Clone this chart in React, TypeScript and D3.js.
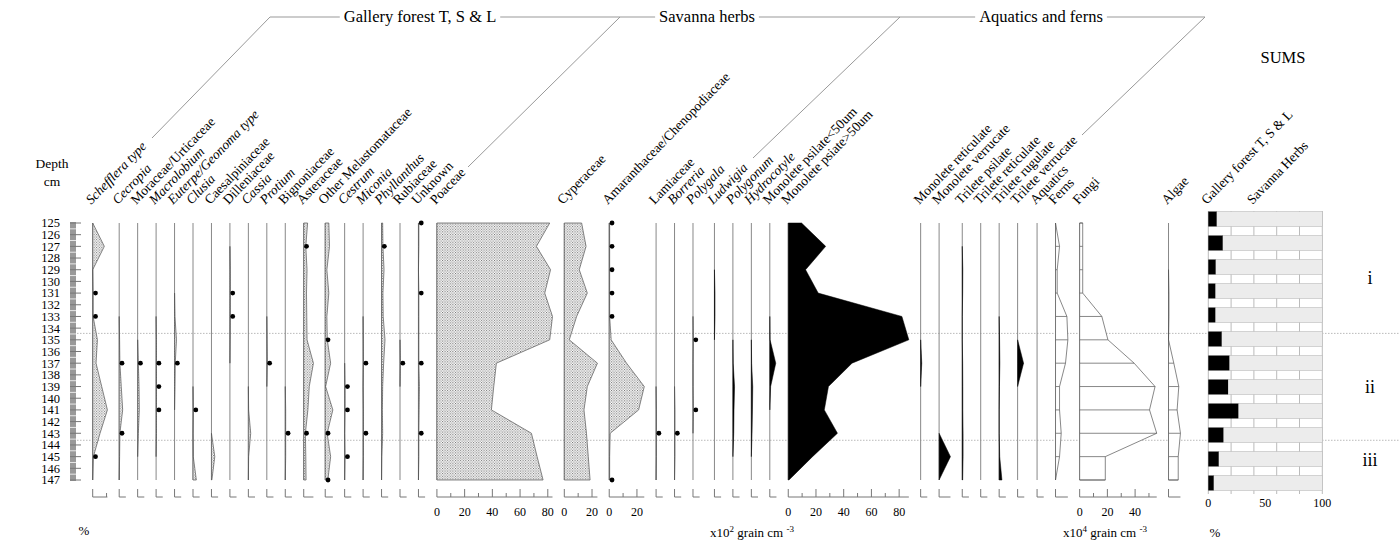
import { useEffect, useRef } from 'react'
import * as d3 from 'd3'

// sample depths (cm) and depth axis labels
const depths = [125, 127, 129, 131, 133, 135, 137, 139, 141, 143, 145, 147]
const depthLabels = d3.range(125, 148)
const zoneBoundaries = [134.45, 143.6]
const zoneNames = ['i', 'ii', 'iii']

// Gallery forest T, S & L (%)
const schefflera = [0, 8.4, 0, 0.3, 0.3, 3.4, 2.4, 6.5, 10.6, 5.3, 0.5, 0]
const cecropia = [0, 0, 0, 0, 0, 0.3, 0.5, 1.5, 2.5, 0.5, 0.3, 0]
const moraceae = [0, 0, 0, 0, 0, 0, 0.5, 1, 1.2, 0.5, 0, 0]
const macrolobium = [0, 0, 0, 0, 0, 0.3, 0.3, 0.3, 0.3, 0.3, 0, 0]
const euterpe = [0, 0, 0, 0, 0.3, 1.4, 0.5, 0.3, 0, 0, 0, 0]
const clusia = [0, 0, 0, 0, 0, 0, 0, 0, 0.3, 0, 0.2, 2.4]
const caesalpiniaceae = [0, 0, 0, 0, 0, 0, 0, 0, 0, 0, 2.4, 0.3]
const dilleniaceae = [0, 0, 0.3, 0.3, 0.3, 0.2, 0, 0, 0, 0, 0, 0]
const cassia = [0, 0, 0, 0, 0, 0, 0, 0, 0.2, 1.7, 0.2, 0]
const protium = [0, 0, 0, 0, 0, 0.2, 0.4, 0, 0, 0, 0, 0]
const bignoniaceae = [0, 0, 0, 0, 0, 0, 0, 0, 0.3, 0.3, 0.3, 0]
const asteraceae = [2.8, 1.5, 2.4, 2, 2.2, 2.4, 7, 4, 3, 1.2, 1.5, 1.7]
const otherMelastomataceae = [2.6, 3.1, 1.2, 2.6, 1.2, 1.5, 3.9, 0.3, 5.5, 1.4, 3.9, 1.9]
const cestrum = [0, 0, 0, 0, 0, 0, 0, 0.3, 0.3, 0, 0.3, 0]
const miconia = [0, 0, 0, 0, 0, 0.2, 0.3, 0, 0.3, 0.3, 0.3, 0]
const phyllanthus = [0.8, 1, 1.8, 1, 1.2, 2.5, 1.5, 0.8, 0.6, 0.8, 0.2, 0]
const rubiaceae = [0, 0, 0, 0, 0, 0, 0.3, 0, 0, 0, 0, 0]
const unknown = [0.3, 0.3, 0, 0.3, 0.3, 0.3, 0.3, 0.7, 0.5, 0.3, 0.3, 0]

// Savanna herbs (%)
const poaceae = [81.4, 71.8, 82, 77.8, 83.4, 81.4, 42.9, 41, 39.3, 68.2, 72.3, 76.6]
const cyperaceae = [12.5, 15.7, 10.8, 16.6, 8.9, 3.6, 23.9, 16.6, 14.2, 16, 17.3, 18.6]
const amaranthaceae = [0.3, 0.3, 0.3, 0.3, 0.3, 1.4, 12.5, 25.3, 21.2, 0.7, 0.3, 0.3]
const lamiaceae = [0, 0, 0, 0, 0, 0, 0, 0, 0.3, 0.3, 0.3, 0]
const borreria = [0, 0, 0, 0, 0, 0, 0, 0, 0.3, 0.3, 0.3, 0]
const polygala = [0, 0, 0, 0, 0, 0.3, 0, 0, 0.3, 0, 0, 0]

// Aquatics and ferns (x10^2 grain cm-3)
const ludwigia = [0, 0, 0, 0.4, 0.4, 0, 0, 0, 0, 0, 0, 0]
const polygonum = [0, 0, 0, 0, 0, 0, 0.2, 1.2, 0.8, 0.6, 0, 0]
const hydrocotyle = [0, 0, 0, 0, 0, 0, 0.2, 1, 0.8, 0.5, 0, 0]
const monoletePsilateSmall = [0, 0, 0, 0, 0, 0.2, 4.3, 0.6, 0, 0, 0, 0]
const monoletePsilateLarge = [9.6, 27, 12.5, 21.6, 82, 87, 46, 29, 26, 35.5, 17.5, 0.5]
const monoleteReticulate = [0, 0, 0, 0, 0, 0, 0.8, 0, 0, 0, 0, 0]
const monoleteVerrucate = [0, 0, 0, 0, 0, 0, 0, 0, 0, 0, 8.2, 0]
const triletePsilate = [0, 0, 0.4, 0.3, 0, 0, 0.3, 0.4, 0.4, 0.6, 0.6, 0.3]
const trileteReticulate = [0, 0, 0, 0, 0, 0, 0, 0, 0, 0, 0, 0]
const trileteRugulate = [0, 0, 0, 0, 0, 0.3, 0.5, 0.2, 0, 0, 0.4, 2]
const trileteVerrucate = [0, 0, 0, 0, 0, 0, 4.3, 0, 0, 0, 0, 0]

// totals (x10^4 grain cm-3)
const aquatics = [0, 0, 0, 0, 0, 0, 0, 0, 0, 0, 0, 0]
const ferns = [0, 2.9, 1.2, 1.2, 8.2, 8.9, 7.2, 2.9, 2.9, 4.1, 2.9, 0]
const fungi = [2.2, 2.2, 2.2, 2.2, 16, 20.4, 39.3, 54.4, 50.4, 55.6, 18.5, 18.5]
const algae = [0, 0, 0, 0.3, 0.3, 0, 3.8, 7.4, 6.2, 8.6, 7, 7]

// SUMS (%)
const galleryForestSum = [7.3, 12.6, 6.4, 6.1, 6.1, 11.7, 18.4, 17.3, 26.3, 13.2, 9.1, 4.7]
const sumTicks = [0, 50, 100]

const groupTitles = ['Gallery forest T, S & L', 'Savanna herbs', 'Aquatics and ferns']

type Kind = 'stipple' | 'black' | 'hollow'
interface Taxon {
  name: string
  values: number[]
  dots?: number[]
  italic?: boolean
}

const forestTaxa: Taxon[] = [
  { name: 'Schefflera type', values: schefflera, dots: [131, 133, 145], italic: true },
  { name: 'Cecropia', values: cecropia, dots: [137, 143], italic: true },
  { name: 'Moraceae/Urticaceae', values: moraceae, dots: [137] },
  { name: 'Macrolobium', values: macrolobium, dots: [137, 139, 141], italic: true },
  { name: 'Euterpe/Geonoma type', values: euterpe, dots: [137], italic: true },
  { name: 'Clusia', values: clusia, dots: [141], italic: true },
  { name: 'Caesalpiniaceae', values: caesalpiniaceae },
  { name: 'Dilleniaceae', values: dilleniaceae, dots: [131, 133] },
  { name: 'Cassia', values: cassia, italic: true },
  { name: 'Protium', values: protium, dots: [137], italic: true },
  { name: 'Bignoniaceae', values: bignoniaceae, dots: [143] },
  { name: 'Asteraceae', values: asteraceae, dots: [127, 143] },
  { name: 'Other Melastomataceae', values: otherMelastomataceae, dots: [135, 143, 147] },
  { name: 'Cestrum', values: cestrum, dots: [139, 141, 145], italic: true },
  { name: 'Miconia', values: miconia, dots: [137, 143], italic: true },
  { name: 'Phyllanthus', values: phyllanthus, dots: [127], italic: true },
  { name: 'Rubiaceae', values: rubiaceae, dots: [137] },
  { name: 'Unknown', values: unknown, dots: [125, 131, 137, 143] },
]

const savannaTaxa: Taxon[] = [
  { name: 'Poaceae', values: poaceae },
  { name: 'Cyperaceae', values: cyperaceae },
  { name: 'Amaranthaceae/Chenopodiaceae', values: amaranthaceae, dots: [125, 127, 129, 131, 133, 147] },
  { name: 'Lamiaceae', values: lamiaceae, dots: [143] },
  { name: 'Borreria', values: borreria, dots: [143], italic: true },
  { name: 'Polygala', values: polygala, dots: [135, 141], italic: true },
]

const aquaticTaxa: Taxon[] = [
  { name: 'Ludwigia', values: ludwigia, italic: true },
  { name: 'Polygonum', values: polygonum, italic: true },
  { name: 'Hydrocotyle', values: hydrocotyle, italic: true },
  { name: 'Monolete psilate<50um', values: monoletePsilateSmall },
  { name: 'Monolete psiate>50um', values: monoletePsilateLarge },
  { name: 'Monolete reticulate', values: monoleteReticulate },
  { name: 'Monolete verrucate', values: monoleteVerrucate },
  { name: 'Trilete psilate', values: triletePsilate },
  { name: 'Trilete reticulate', values: trileteReticulate },
  { name: 'Trilete rugulate', values: trileteRugulate },
  { name: 'Trilete verrucate', values: trileteVerrucate },
]

const totalTaxa: Taxon[] = [
  { name: 'Aquatics', values: aquatics },
  { name: 'Ferns', values: ferns },
  { name: 'Fungi', values: fungi },
  { name: 'Algae', values: algae },
]

const FONT = '"Liberation Serif", "DejaVu Serif", serif'
const UNIT_PX = 1.386
const GAP = 11.8
const MIN_UNITS = 4.8
const FIRST_X = 92.7
const LABEL_ANGLE = -46
const LABEL_SIZE = 13.5
const AXIS_Y = 497
const EXTRA_GAP: Record<string, number> = { Ludwigia: 3, Aquatics: 1 }

function presenceRuns(values: number[]) {
  const keep = values.map(
    (v, i) => v > 0 || (values[i - 1] ?? 0) > 0 || (values[i + 1] ?? 0) > 0,
  )
  const runs: number[][] = []
  let current: number[] = []
  keep.forEach((k, i) => {
    if (k) current.push(i)
    else if (current.length) {
      runs.push(current)
      current = []
    }
  })
  if (current.length) runs.push(current)
  return runs
}

export default function App() {
  const svgRef = useRef<SVGSVGElement | null>(null)

  useEffect(() => {
    if (!svgRef.current) return
    const svg = d3.select(svgRef.current)
    svg.selectAll('*').remove()

    const y = d3.scaleLinear().domain([125, 147]).range([223, 480])

    const defs = svg.append('defs')
    const pattern = defs
      .append('pattern')
      .attr('id', 'stipple')
      .attr('width', 2.6)
      .attr('height', 2.6)
      .attr('patternUnits', 'userSpaceOnUse')
    pattern.append('rect').attr('width', 2.6).attr('height', 2.6).attr('fill', '#fff')
    pattern.append('rect').attr('width', 1).attr('height', 1).attr('fill', '#666')
    pattern
      .append('rect')
      .attr('x', 1.3)
      .attr('y', 1.3)
      .attr('width', 1)
      .attr('height', 1)
      .attr('fill', '#666')

    // group headers
    const header = svg.append('g').attr('font-family', FONT).attr('font-size', 16.5)
    const spans = [
      { x0: 270, x1: 620, cx: 420 },
      { x0: 620, x1: 900, cx: 707 },
      { x0: 900, x1: 1205, cx: 1041 },
    ]
    spans.forEach((span, i) => {
      const t = header
        .append('text')
        .attr('x', span.cx)
        .attr('y', 22)
        .attr('text-anchor', 'middle')
        .text(groupTitles[i])
      const w = (t.node() as SVGTextElement).getComputedTextLength()
      header
        .append('line')
        .attr('x1', span.x0)
        .attr('x2', span.cx - w / 2 - 4)
        .attr('y1', 17)
        .attr('y2', 17)
        .attr('stroke', '#999')
      header
        .append('line')
        .attr('x1', span.cx + w / 2 + 4)
        .attr('x2', span.x1)
        .attr('y1', 17)
        .attr('y2', 17)
        .attr('stroke', '#999')
    })
    const diagonals = [
      [270, 17, 152, 138],
      [620, 17, 468, 167],
      [900, 17, 753, 158],
      [1205, 17, 1082, 135],
    ]
    header
      .selectAll('line.diag')
      .data(diagonals)
      .enter()
      .append('line')
      .attr('class', 'diag')
      .attr('x1', (d) => d[0])
      .attr('y1', (d) => d[1])
      .attr('x2', (d) => d[2])
      .attr('y2', (d) => d[3])
      .attr('stroke', '#999')

    svg
      .append('text')
      .attr('x', 1283)
      .attr('y', 63)
      .attr('text-anchor', 'middle')
      .attr('font-family', FONT)
      .attr('font-size', 16.5)
      .text('SUMS')

    // depth axis
    const depthG = svg.append('g').attr('font-family', FONT).attr('font-size', 12.5)
    depthG.append('text').attr('x', 52).attr('y', 168).attr('font-size', 13.5).attr('text-anchor', 'middle').text('Depth')
    depthG.append('text').attr('x', 52).attr('y', 186).attr('font-size', 13.5).attr('text-anchor', 'middle').text('cm')
    depthG
      .selectAll('text.depth')
      .data(depthLabels)
      .enter()
      .append('text')
      .attr('class', 'depth')
      .attr('x', 60)
      .attr('y', (d) => y(d))
      .attr('dy', '0.35em')
      .attr('text-anchor', 'end')
      .text((d) => String(d))
    depthG
      .append('rect')
      .attr('x', 70)
      .attr('y', y(125) - 1)
      .attr('width', 6)
      .attr('height', y(147) - y(125) + 2)
      .attr('fill', '#999')
    depthG
      .selectAll('line.rtick')
      .data(d3.range(125, 147.01, 0.5))
      .enter()
      .append('line')
      .attr('x1', 70)
      .attr('x2', (d) => (Number.isInteger(d) ? 81 : 76))
      .attr('y1', (d) => y(d))
      .attr('y2', (d) => y(d))
      .attr('stroke', (d) => (Number.isInteger(d) ? '#777' : '#e8e8e8'))
      .attr('stroke-width', 1)

    // zone lines
    svg
      .selectAll('line.zone')
      .data(zoneBoundaries)
      .enter()
      .append('line')
      .attr('x1', 77)
      .attr('x2', 1400)
      .attr('y1', (d) => y(d))
      .attr('y2', (d) => y(d))
      .attr('stroke', '#aaa')
      .attr('stroke-width', 0.8)
      .attr('stroke-dasharray', '1.5,1.5')
    const zoneEdges = [125, ...zoneBoundaries, 147]
    svg
      .selectAll('text.zone')
      .data(zoneNames)
      .enter()
      .append('text')
      .attr('x', 1370)
      .attr('y', (_, i) => y((zoneEdges[i] + zoneEdges[i + 1]) / 2))
      .attr('dy', '0.35em')
      .attr('text-anchor', 'middle')
      .attr('font-family', FONT)
      .attr('font-size', 18)
      .text((d) => d)

    // columns
    const all: { taxon: Taxon; kind: Kind }[] = [
      ...forestTaxa.map((t) => ({ taxon: t, kind: 'stipple' as Kind })),
      ...savannaTaxa.map((t) => ({ taxon: t, kind: 'stipple' as Kind })),
      ...aquaticTaxa.map((t) => ({ taxon: t, kind: 'black' as Kind })),
      ...totalTaxa.map((t) => ({ taxon: t, kind: 'hollow' as Kind })),
    ]
    let cursor = FIRST_X
    const placed = all.map((c) => {
      cursor += EXTRA_GAP[c.taxon.name] ?? 0
      const base = cursor
      const units = Math.max(d3.max(c.taxon.values) ?? 0, MIN_UNITS)
      cursor += units * UNIT_PX + GAP
      return { ...c, base, units }
    })

    const cols = svg.append('g')
    placed.forEach(({ taxon, kind, base, units }) => {
      const g = cols.append('g')
      const x = d3
        .scaleLinear()
        .domain([0, units])
        .range([base, base + units * UNIT_PX])

      g.append('line')
        .attr('x1', base)
        .attr('x2', base)
        .attr('y1', y(125))
        .attr('y2', y(147))
        .attr('stroke', '#888')

      const area = d3
        .area<number>()
        .x0(base)
        .x1((i) => x(taxon.values[i]))
        .y((i) => y(depths[i]))

      presenceRuns(taxon.values).forEach((run) => {
        g.append('path')
          .attr('d', area(run))
          .attr('fill', kind === 'stipple' ? 'url(#stipple)' : kind === 'black' ? '#000' : '#fff')
          .attr('stroke', kind === 'black' ? '#000' : '#555')
          .attr('stroke-width', kind === 'black' ? 0.5 : 0.7)
        if (kind === 'hollow') {
          g.selectAll(null)
            .data(run.filter((i) => taxon.values[i] > 0))
            .enter()
            .append('line')
            .attr('x1', base)
            .attr('x2', (i) => x(taxon.values[i]))
            .attr('y1', (i) => y(depths[i]))
            .attr('y2', (i) => y(depths[i]))
            .attr('stroke', '#555')
            .attr('stroke-width', 0.7)
        }
      })

      g.selectAll('circle')
        .data(taxon.dots ?? [])
        .enter()
        .append('circle')
        .attr('cx', base + 2.8)
        .attr('cy', (d) => y(d))
        .attr('r', 2.4)
        .attr('fill', '#000')

      // scale bar
      g.append('line')
        .attr('x1', base)
        .attr('x2', x(units))
        .attr('y1', AXIS_Y)
        .attr('y2', AXIS_Y)
        .attr('stroke', '#777')
      const ticks = d3.range(0, units + 0.01, 10)
      g.selectAll('line.tick')
        .data(ticks)
        .enter()
        .append('line')
        .attr('class', 'tick')
        .attr('x1', (d) => x(d))
        .attr('x2', (d) => x(d))
        .attr('y1', (d) => (d % 20 === 0 ? AXIS_Y - 8 : AXIS_Y - 4))
        .attr('y2', AXIS_Y)
        .attr('stroke', '#777')
      if (units >= 20) {
        g.selectAll('text.tick')
          .data(ticks.filter((d) => d % 20 === 0))
          .enter()
          .append('text')
          .attr('x', (d) => x(d))
          .attr('y', AXIS_Y + 19)
          .attr('text-anchor', 'middle')
          .attr('font-family', FONT)
          .attr('font-size', 12)
          .text((d) => String(d))
      }

      g.append('text')
        .attr('transform', `translate(${base - 1.5}, 205) rotate(${LABEL_ANGLE})`)
        .attr('font-family', FONT)
        .attr('font-size', LABEL_SIZE)
        .attr('font-style', taxon.italic ? 'italic' : 'normal')
        .text(taxon.name)
    })

    // SUMS panel
    const sx = d3.scaleLinear().domain([0, 100]).range([1208.3, 1322.3])
    const sy = d3
      .scaleBand<number>()
      .domain(depths)
      .range([207, 495])
      .paddingInner(0.375)
      .paddingOuter(0.1875)
    const sums = svg.append('g')
    sums
      .selectAll('line.grid')
      .data(d3.range(0, 101, 20))
      .enter()
      .append('line')
      .attr('x1', (d) => sx(d))
      .attr('x2', (d) => sx(d))
      .attr('y1', 211)
      .attr('y2', 494)
      .attr('stroke', '#bbb')
    sums
      .selectAll('rect.herb')
      .data(galleryForestSum)
      .enter()
      .append('rect')
      .attr('x', (d) => sx(d))
      .attr('y', (_, i) => sy(depths[i]) ?? 0)
      .attr('width', (d) => sx(100) - sx(d))
      .attr('height', sy.bandwidth())
      .attr('fill', '#ececec')
      .attr('stroke', '#bbb')
      .attr('stroke-width', 0.6)
    sums
      .selectAll('rect.forest')
      .data(galleryForestSum)
      .enter()
      .append('rect')
      .attr('x', sx(0))
      .attr('y', (_, i) => sy(depths[i]) ?? 0)
      .attr('width', (d) => sx(d) - sx(0))
      .attr('height', sy.bandwidth())
      .attr('fill', '#000')
    sums
      .selectAll('text.sumtick')
      .data(sumTicks)
      .enter()
      .append('text')
      .attr('x', (d) => sx(d))
      .attr('y', 507)
      .attr('text-anchor', 'middle')
      .attr('font-family', FONT)
      .attr('font-size', 12)
      .text((d) => String(d))
    sums
      .append('text')
      .attr('transform', `translate(${sx(0) - 1.5}, 205) rotate(${LABEL_ANGLE})`)
      .attr('font-family', FONT)
      .attr('font-size', LABEL_SIZE)
      .text('Gallery forest T, S & L')
    sums
      .append('text')
      .attr('transform', `translate(${sx(40) - 1.5}, 205) rotate(${LABEL_ANGLE})`)
      .attr('font-family', FONT)
      .attr('font-size', LABEL_SIZE)
      .text('Savanna Herbs')

    // unit captions
    const captions = svg.append('g').attr('font-family', FONT).attr('font-size', 13)
    captions.append('text').attr('x', 84).attr('y', 535).attr('text-anchor', 'middle').text('%')
    captions.append('text').attr('x', 1215).attr('y', 537).attr('text-anchor', 'middle').text('%')
    const unitLabel = (cx: number, exp: string) => {
      const t = captions.append('text').attr('x', cx).attr('y', 537).attr('text-anchor', 'middle')
      t.append('tspan').text('x10')
      t.append('tspan').attr('font-size', 9).attr('dy', -5).text(exp)
      t.append('tspan').attr('dy', 5).text(' grain cm ')
      t.append('tspan').attr('font-size', 9).attr('dy', -5).text('-3')
    }
    unitLabel(752, '2')
    unitLabel(1105, '4')
  }, [])

  return (
    <svg
      ref={svgRef}
      width={1400}
      height={560}
      style={{ position: 'absolute', left: 0, top: 0, background: '#fff' }}
    />
  )
}
